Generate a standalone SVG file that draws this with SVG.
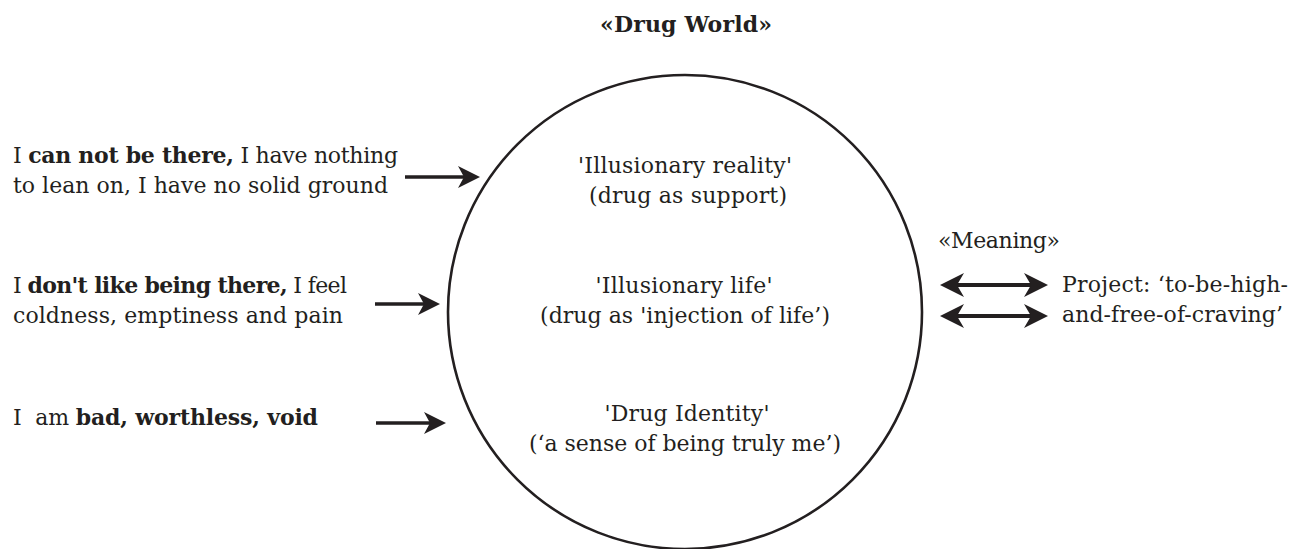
<svg xmlns="http://www.w3.org/2000/svg" width="1297" height="549" viewBox="0 0 1297 549">
<style>
text{font-family:"DejaVu Serif","Liberation Serif",serif;font-size:22px;fill:#231f20}
.b{font-weight:bold}
.c{text-anchor:middle}
.title{font-size:22px;font-weight:bold}
.arr{stroke:#231f20;stroke-width:3.3;fill:none}
.arr2{stroke:#231f20;stroke-width:4;fill:none}
</style>
<defs>
<marker id="ah" markerUnits="userSpaceOnUse" viewBox="0 0 22 22" refX="14" refY="11" markerWidth="22" markerHeight="22" orient="auto-start-reverse">
<path d="M0,0 L22,11 L0,22 L6,11 Z" fill="#231f20"/>
</marker>
<marker id="ah2" markerUnits="userSpaceOnUse" viewBox="0 0 24 24" refX="15" refY="12" markerWidth="24" markerHeight="24" orient="auto-start-reverse">
<path d="M0,0 L24,12 L0,24 L7,12 Z" fill="#231f20"/>
</marker>
</defs>
<g id="title"><text class="title c" x="686" y="32" textLength="172">«Drug World»</text></g>
<g id="world">
<circle cx="685" cy="312" r="237" fill="none" stroke="#231f20" stroke-width="2.6"/>
<text class="c" x="685" y="173" textLength="214">'Illusionary reality'</text>
<text class="c" x="688" y="203" textLength="198">(drug as support)</text>
<text class="c" x="684" y="293" textLength="177">'Illusionary life'</text>
<text class="c" x="685" y="323" textLength="290">(drug as 'injection of life’)</text>
<text class="c" x="687" y="421" textLength="165">'Drug Identity'</text>
<text class="c" x="685" y="451" textLength="312">(‘a sense of being truly me’)</text>
</g>
<g id="cannot">
<text x="13" y="163" textLength="385">I <tspan class="b">can not be there,</tspan> I have nothing</text>
<text x="13" y="193" textLength="375">to lean on, I have no solid ground</text>
</g>
<g id="dontlike">
<text x="13" y="293" textLength="334">I <tspan class="b">don't like being there,</tspan> I feel</text>
<text x="13" y="323" textLength="330">coldness, emptiness and pain</text>
</g>
<g id="bad">
<text x="13" y="425" xml:space="preserve" textLength="305">I  am <tspan class="b">bad, worthless, void</tspan></text>
</g>
<g id="meaning">
<text x="938" y="248" textLength="122">«Meaning»</text>
</g>
<g id="project">
<text x="1062" y="292" textLength="226">Project: ‘to-be-high-</text>
<text x="1062" y="322" textLength="221">and-free-of-craving’</text>
</g>
<g id="connectors">
<line class="arr" x1="405" y1="177" x2="472" y2="177" marker-end="url(#ah)"/>
<line class="arr" x1="375" y1="304" x2="432" y2="304" marker-end="url(#ah)"/>
<line class="arr" x1="376" y1="423" x2="438" y2="423" marker-end="url(#ah)"/>
<line class="arr2" x1="949" y1="285" x2="1039" y2="285" marker-start="url(#ah2)" marker-end="url(#ah2)"/>
<line class="arr2" x1="949" y1="316" x2="1039" y2="316" marker-start="url(#ah2)" marker-end="url(#ah2)"/>
</g>
</svg>
